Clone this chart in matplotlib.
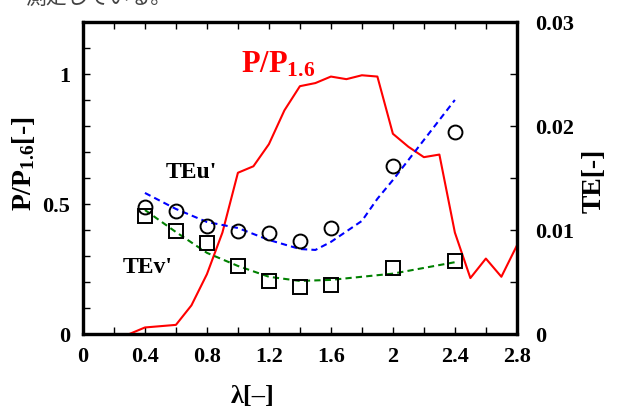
import matplotlib
matplotlib.use("Agg")
import matplotlib.pyplot as plt
from matplotlib.ticker import MultipleLocator, FuncFormatter

plt.rcParams['font.family'] = ['Liberation Serif', 'DejaVu Serif']
plt.rcParams['font.weight'] = 'bold'
plt.rcParams['axes.labelweight'] = 'bold'
plt.rcParams['mathtext.default'] = 'regular'

# P/P1.6 (左軸)
lam_p = [0.3, 0.4, 0.5, 0.6, 0.7, 0.8, 0.9, 1.0, 1.1, 1.2, 1.3, 1.4, 1.5, 1.6,
         1.7, 1.8, 1.9, 2.0, 2.1, 2.2, 2.3, 2.4, 2.5, 2.6, 2.7, 2.8]
p_ratio = [0.0, 0.025, 0.03, 0.035, 0.11, 0.23, 0.39, 0.62, 0.645, 0.73, 0.86,
           0.953, 0.965, 0.99, 0.98, 0.995, 0.99, 0.77, 0.72, 0.68, 0.69, 0.39,
           0.215, 0.29, 0.22, 0.34]

# TE (右軸) 計測点
lam_te = [0.4, 0.6, 0.8, 1.0, 1.2, 1.4, 1.6, 2.0, 2.4]
te_u = [0.0122, 0.0118, 0.0104, 0.0099, 0.0097, 0.0089, 0.0102, 0.01615, 0.0194]
te_v = [0.01135, 0.0099, 0.00875, 0.00654, 0.0051, 0.0045, 0.0047, 0.0063, 0.0070]

# 近似曲線
lam_fu = [0.4, 0.6, 0.8, 1.0, 1.2, 1.4, 1.5, 1.6, 1.8, 1.9, 2.0, 2.2, 2.4]
fit_u = [0.01356, 0.01202, 0.01077, 0.01019, 0.00904, 0.00817, 0.00808, 0.00885,
         0.01087, 0.0130, 0.0148, 0.01865, 0.0225]
lam_fv = [0.4, 0.6, 0.8, 1.0, 1.2, 1.4, 1.6, 2.0, 2.4]
fit_v = [0.01192, 0.0098, 0.0078, 0.00654, 0.0055, 0.0051, 0.0052, 0.0058, 0.0069]

fig = plt.figure(figsize=(6.19, 4.10), dpi=100)
ax = fig.add_axes([0.134, 0.183, 0.701, 0.761])
ax2 = ax.twinx()

ax.plot(lam_p, p_ratio, color='red', lw=1.5, zorder=3)
ax2.plot(lam_fu, fit_u, color='blue', lw=1.5, ls=(0, (3, 2)))
ax2.plot(lam_fv, fit_v, color='green', lw=1.5, ls=(0, (3, 2)))
ax2.plot(lam_te, te_u, 'o', ms=10, mfc='none', mec='black', mew=1.4)
ax2.plot(lam_te, te_v, 's', ms=9.5, mfc='none', mec='black', mew=1.4)

ax.set_xlim(0, 2.8)
ax.set_ylim(0, 1.2)
ax2.set_ylim(0, 0.03)

ax.xaxis.set_major_locator(MultipleLocator(0.4))
ax.xaxis.set_minor_locator(MultipleLocator(0.2))
ax.yaxis.set_major_locator(MultipleLocator(0.5))
ax.yaxis.set_minor_locator(MultipleLocator(0.1))
ax2.yaxis.set_major_locator(MultipleLocator(0.01))
ax2.yaxis.set_minor_locator(MultipleLocator(0.005))

# 末尾の0を省いた目盛り表記
def fmt(v, pos):
    return f'{v:.2f}'.rstrip('0').rstrip('.')

ax.xaxis.set_major_formatter(FuncFormatter(fmt))
ax.yaxis.set_major_formatter(FuncFormatter(fmt))
ax2.yaxis.set_major_formatter(FuncFormatter(fmt))

for a in (ax, ax2):
    for s in a.spines.values():
        s.set_linewidth(2.3)
ax.tick_params(which='both', direction='in', length=5, width=1, top=True,
               labelsize=16, pad=9)
ax.tick_params(axis='y', which='both', right=False)
ax2.tick_params(which='both', direction='in', length=5, width=1, labelsize=16, pad=13)

ax.set_xlabel('λ[–]', fontsize=19)
ax.xaxis.set_label_coords(0.392, -0.16)
ax.set_ylabel('P/P$_{1.6}$[-]', fontsize=20, va='center')
ax.yaxis.set_label_coords(-0.138, 0.548)
ax2.set_ylabel('TE[-]', fontsize=20, rotation=90, va='center')
ax2.yaxis.set_label_coords(1.177, 0.494)

ax.text(1.26, 1.04, 'P/P$_{1.6}$', color='red', fontsize=22, ha='center', va='center')
ax.text(0.7, 0.625, "TEu'", fontsize=17, ha='center', va='center')
ax.text(0.42, 0.26, "TEv'", fontsize=17, ha='center', va='center')

# 上端で切れている本文の一部
fig.text(0.04, 0.99, '測定している。', fontsize=15, fontweight='normal',
         family=['Noto Sans CJK JP', 'DejaVu Sans'], color='#444444', va='baseline')

fig.savefig('out.png', dpi=100)
